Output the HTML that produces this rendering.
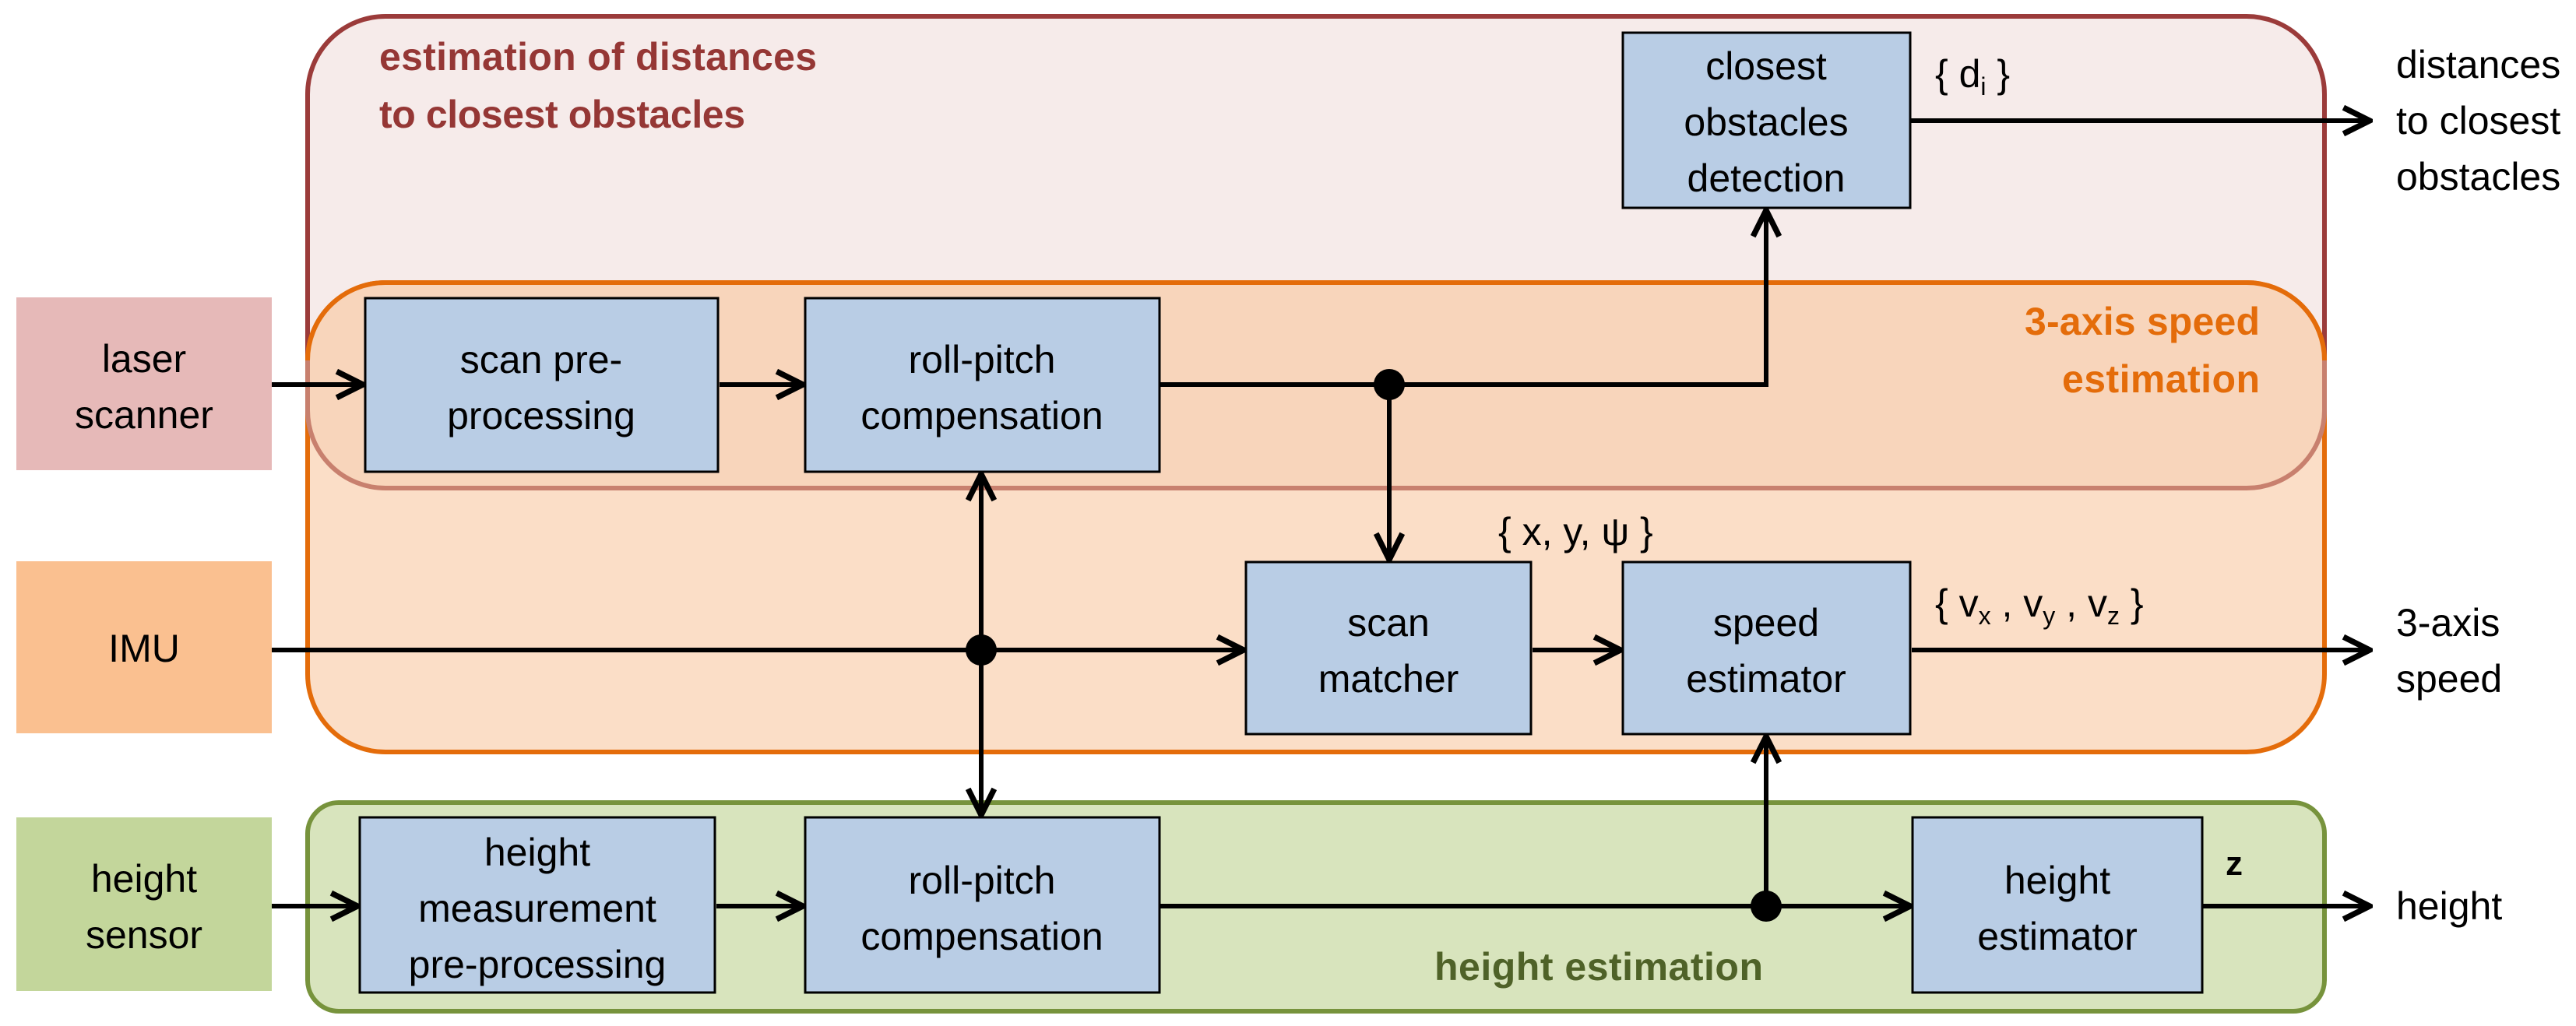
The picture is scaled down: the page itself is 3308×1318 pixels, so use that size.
<!DOCTYPE html>
<html><head><meta charset="utf-8"><style>
html,body{margin:0;padding:0;background:#fff;}
svg{display:block;}
text{font-family:"Liberation Sans",sans-serif;font-size:50px;fill:#000;}
.c{text-anchor:middle;}
.t{font-weight:bold;font-size:50px;}
</style></head><body>
<svg width="3308" height="1318" viewBox="0 0 3308 1318" xmlns="http://www.w3.org/2000/svg">
<defs>
<marker id="a" viewBox="0 0 20 20" refX="18" refY="10" markerWidth="7" markerHeight="7" markerUnits="strokeWidth" orient="auto-start-reverse">
<path d="M2,2 L18,10 L2,18" fill="none" stroke="#000" stroke-width="3.5"/>
</marker>
</defs>
<rect x="395" y="21" width="2590" height="606" rx="100" fill="#F6EBEA" stroke="#9B3B3A" stroke-width="6"/>
<rect x="395" y="363" width="2590" height="603" rx="100" fill="#FBDEC7" stroke="#E46C0A" stroke-width="6"/>
<path d="M495,363 L2885,363 A100,100 0 0 1 2985,463 L2985,527 A100,100 0 0 1 2885,627 L495,627 A100,100 0 0 1 395,527 L395,463 A100,100 0 0 1 495,363 Z" fill="#F8D5BB" stroke="none"/>
<path d="M2985,463 L2985,527 A100,100 0 0 1 2885,627 L495,627 A100,100 0 0 1 395,527 L395,463" fill="none" stroke="#C8806E" stroke-width="6"/>
<path d="M395,463 A100,100 0 0 1 495,363 L2885,363 A100,100 0 0 1 2985,463" fill="none" stroke="#E46C0A" stroke-width="6"/>
<rect x="395" y="1031" width="2590" height="268" rx="40" fill="#D8E4BD" stroke="#77933C" stroke-width="6"/>

<text class="t" x="487" y="90" style="fill:#953735" textLength="562">estimation of distances</text>
<text class="t" x="487" y="164" style="fill:#953735" textLength="470">to closest  obstacles</text>
<text class="t" x="2902" y="430" text-anchor="end" style="fill:#E46C0A" textLength="302">3-axis speed</text>
<text class="t" x="2902" y="504" text-anchor="end" style="fill:#E46C0A" textLength="254">estimation</text>
<text class="t" x="1842" y="1259" style="fill:#4F6228" textLength="422">height estimation</text>

<rect x="21" y="382" width="328" height="222" fill="#E6B9B8"/>
<rect x="21" y="721" width="328" height="221" fill="#FAC090"/>
<rect x="21" y="1050" width="328" height="223" fill="#C3D69B"/>
<text class="c" x="185" y="478">laser</text>
<text class="c" x="185" y="550">scanner</text>
<text class="c" x="185" y="850">IMU</text>
<text class="c" x="185" y="1146">height</text>
<text class="c" x="185" y="1218">sensor</text>

<g fill="#B9CDE5" stroke="#000" stroke-width="3">
<rect x="469" y="383" width="453" height="223"/>
<rect x="1034" y="383" width="455" height="223"/>
<rect x="462" y="1050" width="456" height="225"/>
<rect x="1034" y="1050" width="455" height="225"/>
<rect x="1600" y="722" width="366" height="221"/>
<rect x="2084" y="722" width="369" height="221"/>
<rect x="2084" y="42" width="369" height="225"/>
<rect x="2456" y="1050" width="372" height="225"/>
</g>
<text class="c" x="695" y="479">scan pre-</text>
<text class="c" x="695" y="551">processing</text>
<text class="c" x="1261" y="479">roll-pitch</text>
<text class="c" x="1261" y="551">compensation</text>
<text class="c" x="690" y="1112">height</text>
<text class="c" x="690" y="1184">measurement</text>
<text class="c" x="690" y="1256">pre-processing</text>
<text class="c" x="1261" y="1148">roll-pitch</text>
<text class="c" x="1261" y="1220">compensation</text>
<text class="c" x="1783" y="817">scan</text>
<text class="c" x="1783" y="889">matcher</text>
<text class="c" x="2268" y="817">speed</text>
<text class="c" x="2268" y="889">estimator</text>
<text class="c" x="2268" y="102">closest</text>
<text class="c" x="2268" y="174">obstacles</text>
<text class="c" x="2268" y="246">detection</text>
<text class="c" x="2642" y="1148">height</text>
<text class="c" x="2642" y="1220">estimator</text>

<text x="3077" y="100">distances</text>
<text x="3077" y="172">to closest</text>
<text x="3077" y="244">obstacles</text>
<text x="3077" y="817">3-axis</text>
<text x="3077" y="889">speed</text>
<text x="3077" y="1181">height</text>

<text x="1924" y="700">{ x, y, ψ }</text>
<text x="2485" y="112">{ d<tspan font-size="32" dy="10">i</tspan><tspan dy="-10"> }</tspan></text>
<text x="2485" y="792">{ v<tspan font-size="32" dy="10">x</tspan><tspan dy="-10"> , v</tspan><tspan font-size="32" dy="10">y</tspan><tspan dy="-10"> , v</tspan><tspan font-size="32" dy="10">z</tspan><tspan dy="-10"> }</tspan></text>
<text x="2858" y="1124" font-weight="bold" style="font-size:44px">z</text>

<g stroke="#000" stroke-width="6" fill="none">
<line x1="349" y1="494" x2="466" y2="494" marker-end="url(#a)"/>
<line x1="924" y1="494" x2="1031" y2="494" marker-end="url(#a)"/>
<polyline points="1489,494 2268,494 2268,270" marker-end="url(#a)"/>
<line x1="1784" y1="494" x2="1784" y2="719" marker-end="url(#a)"/>
<line x1="2453" y1="155" x2="3043" y2="155" marker-end="url(#a)"/>
<line x1="349" y1="835" x2="1597" y2="835" marker-end="url(#a)"/>
<line x1="1260" y1="609" x2="1260" y2="1047" marker-start="url(#a)" marker-end="url(#a)"/>
<line x1="1968" y1="835" x2="2081" y2="835" marker-end="url(#a)"/>
<line x1="2455" y1="835" x2="3043" y2="835" marker-end="url(#a)"/>
<line x1="349" y1="1164" x2="459" y2="1164" marker-end="url(#a)"/>
<line x1="920" y1="1164" x2="1031" y2="1164" marker-end="url(#a)"/>
<line x1="1489" y1="1164" x2="2453" y2="1164" marker-end="url(#a)"/>
<line x1="2268" y1="1164" x2="2268" y2="946" marker-end="url(#a)"/>
<line x1="2828" y1="1164" x2="3043" y2="1164" marker-end="url(#a)"/>
</g>
<circle cx="1784" cy="494" r="20" fill="#000"/>
<circle cx="1260" cy="835" r="20" fill="#000"/>
<circle cx="2268" cy="1164" r="20" fill="#000"/>
</svg>
</body></html>
